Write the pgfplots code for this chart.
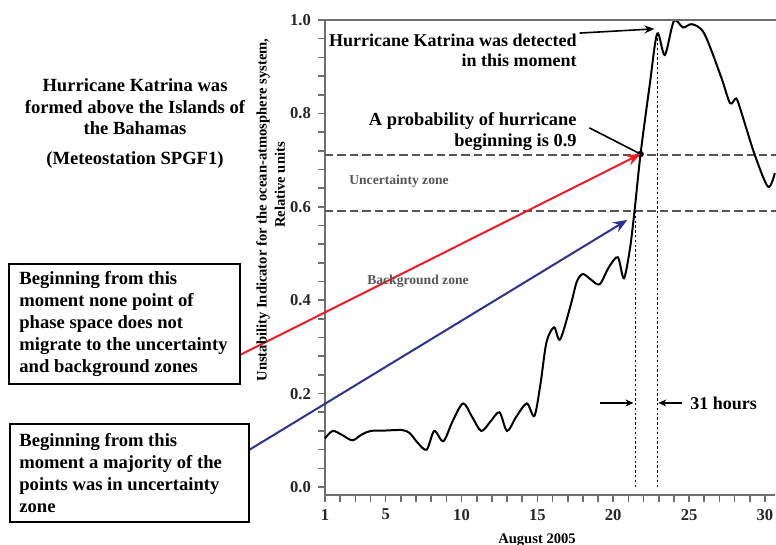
\documentclass[border=0pt]{standalone}
\usepackage{fontspec}
\setmainfont{Liberation Serif}
\usepackage{pgfplots}
\pgfplotsset{compat=1.18}
\usetikzlibrary{arrows.meta}
\definecolor{axisgray}{HTML}{6E6E6E}
\definecolor{zonegray}{HTML}{555555}
\definecolor{arrred}{HTML}{EE1D23}
\definecolor{arrblue}{HTML}{2E3192}
\newcommand\fs[2]{\fontsize{#1}{#2}\selectfont}

\begin{document}
\begin{tikzpicture}
\path[use as bounding box] (0,0) rectangle (388pt,-272.5pt);
\begin{axis}[
  at={(162.5pt,-247.5pt)}, anchor=south west,
  scale only axis, width=224.9pt, height=237.5pt,
  xmin=1, xmax=30.65, ymin=-0.0171, ymax=1,
  axis lines*=left,
  axis line style={axisgray, line width=1pt, -},
  clip=false,
  xtick={1,5,10,15,20,25,30},
  minor xtick={2,3,4,6,7,8,9,11,12,13,14,16,17,18,19,21,22,23,24,26,27,28,29},
  ytick={0,0.2,0.4,0.6,0.8,1.0},
  minor y tick num=4,
  tick align=outside,
  major tick length=3.5pt, minor tick length=3.5pt,
  tick style={axisgray, line width=0.8pt},
  /pgf/number format/assume math mode=true,
  yticklabel style={/pgf/number format/fixed, /pgf/number format/fixed zerofill,
    /pgf/number format/precision=1, font=\bfseries\fs{8.3}{9}, text=black!85},
  xticklabel style={font=\bfseries\fs{8.3}{9}, text=black!85},
]
% zone borders
\addplot[zonegray, line width=1pt, dash pattern=on 4.2pt off 2pt] coordinates {(1,0.71) (30.8,0.71)};
\addplot[zonegray, line width=1pt, dash pattern=on 4.2pt off 2pt] coordinates {(1,0.59) (30.8,0.59)};
% moments
\addplot[black, line width=0.5pt, dash pattern=on 1.2pt off 1.2pt] coordinates {(21.5,0) (21.5,0.6)};
\addplot[black, line width=0.5pt, dash pattern=on 1.2pt off 1.2pt] coordinates {(22.9,0) (22.9,0.975)};
% indicator
\addplot[black, line width=1pt, smooth, tension=0.5] coordinates {
  (1.0,0.104) (1.5,0.12) (2.1,0.112) (2.8,0.10) (3.4,0.112) (4.0,0.12)
  (5.0,0.121) (6.1,0.122) (6.6,0.115) (7.1,0.095) (7.7,0.08) (8.2,0.12)
  (8.8,0.098) (9.4,0.14) (10.1,0.179) (10.7,0.15) (11.3,0.12) (11.9,0.14)
  (12.5,0.16) (13.0,0.12) (13.6,0.15) (14.3,0.179) (14.8,0.152) (15.2,0.22)
  (15.6,0.31) (16.1,0.342) (16.5,0.316) (17.2,0.39) (17.6,0.44) (18.0,0.456)
  (18.5,0.445) (19.1,0.434) (19.7,0.47) (20.3,0.492) (20.7,0.447) (21.1,0.51)
  (21.4,0.59) (21.8,0.713) (22.4,0.86) (22.9,0.971) (23.4,0.925) (24.0,0.998)
  (24.6,0.984) (25.2,0.991) (26.0,0.971) (27.1,0.879) (27.7,0.822) (28.1,0.832)
  (28.4,0.807) (29.3,0.714) (30.2,0.643) (30.65,0.672)
};
\addplot[only marks, mark=*, mark size=1.4pt, black] coordinates {(21.8,0.713)};
\draw[axisgray, line width=1pt] (axis cs:1,1) -- (axis cs:30.8,1);
\coordinate (P) at (axis cs:21.8,0.713);
\coordinate (B) at (axis cs:20.93,0.572);
\draw[black, line width=0.8pt, -{Stealth[length=5pt,width=4pt]}] (axis cs:17.78,0.972) -- (axis cs:22.71,0.981);
\draw[black, line width=0.8pt] (axis cs:18.43,0.769) -- (P);
\draw[black, line width=0.6pt, -{Stealth[length=4pt,width=3.5pt]}] (axis cs:19.16,0.18) -- (axis cs:21.33,0.18);
\draw[black, line width=0.6pt, -{Stealth[length=4pt,width=3.5pt]}] (axis cs:24.55,0.18) -- (axis cs:22.97,0.18);
\end{axis}

\begin{scope}[x=0.5pt, y=-0.5pt, font=\bfseries]
% arrows from the boxes
\draw[arrred, line width=1pt, -{Stealth[length=7pt,width=5.5pt]}] (240,355) -- (P);
\draw[arrblue, line width=1pt, -{Stealth[length=7pt,width=5.5pt]}] (249,450) -- (B);
% text inside the plot
\node[anchor=east, align=right, font=\bfseries\fs{9}{10}, inner sep=0pt] at (577,50)
  {Hurricane Katrina was detected\\in this moment};
\node[anchor=east, align=right, font=\bfseries\fs{9.2}{10.5}, inner sep=0pt] at (577,132)
  {A probability of hurricane\\beginning is 0.9};
\node[font=\bfseries\fs{6.8}{8}, text=zonegray] at (399,181) {Uncertainty zone};
\node[font=\bfseries\fs{6.8}{8}, text=zonegray] at (418,281) {Background zone};
\node[anchor=west, font=\bfseries\fs{9}{10}, inner sep=0pt] at (690,403) {31 hours};
% axis titles
\node[font=\bfseries\fs{7.3}{8}] at (537,540) {August 2005};
\node[rotate=90, font=\bfseries\fs{7.3}{8}] at (263,210) {Unstability Indicator for the ocean-atmosphere system,};
\node[rotate=90, font=\bfseries\fs{7.3}{8}] at (280,185) {Relative units};
% left side
\node[align=center, font=\bfseries\fs{9.3}{10.7}] at (135,107)
  {Hurricane Katrina was\\formed above the Islands of\\the Bahamas};
\node[font=\bfseries\fs{9.3}{10.7}] at (135,160) {(Meteostation SPGF1)};
\draw[black, line width=0.7pt] (9,264) rectangle (240,384);
\node[anchor=west, align=left, font=\bfseries\fs{9.3}{11}, inner sep=0pt] at (19,324)
  {Beginning from this\\moment none point of\\phase space does not\\migrate to the uncertainty\\and background zones};
\draw[black, line width=0.7pt] (10,424) rectangle (249,522);
\node[anchor=west, align=left, font=\bfseries\fs{9.3}{11}, inner sep=0pt] at (19,473)
  {Beginning from this\\moment a majority of the\\points was in uncertainty\\zone};
\end{scope}
\end{tikzpicture}
\end{document}
